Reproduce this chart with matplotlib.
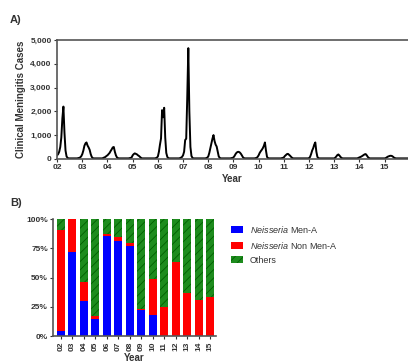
import matplotlib
matplotlib.use("Agg")
import matplotlib.pyplot as plt
import numpy as np

plt.rcParams["font.family"] = ["Liberation Sans", "DejaVu Sans"]
plt.rcParams["mathtext.fontset"] = "custom"
plt.rcParams["mathtext.it"] = "Liberation Sans:italic"
plt.rcParams["mathtext.rm"] = "Liberation Sans"
plt.rcParams["hatch.linewidth"] = 0.6

# Panel A: clinical meningitis cases, 24 readings per year (half-monthly), 2002-2015
years = ["02", "03", "04", "05", "06", "07", "08", "09", "10", "11", "12", "13", "14", "15"]
cases = [
    [150, 200, 300, 500, 900, 1700, 2200, 1100, 350, 100, 40, 20, 20, 20, 20, 20, 20, 20, 20, 20, 30, 40, 60, 110],
    [200, 350, 550, 650, 690, 560, 480, 380, 200, 80, 30, 20, 20, 20, 20, 20, 20, 20, 20, 20, 40, 60, 80, 120],
    [150, 200, 250, 330, 400, 480, 500, 300, 150, 60, 30, 20, 20, 20, 20, 20, 20, 20, 20, 20, 20, 30, 40, 60],
    [150, 200, 230, 210, 190, 150, 120, 80, 40, 20, 20, 20, 20, 20, 20, 20, 20, 20, 20, 20, 20, 20, 30, 50],
    [100, 300, 600, 860, 2050, 1750, 2150, 900, 250, 80, 30, 20, 20, 20, 20, 20, 20, 20, 20, 20, 20, 30, 50, 80],
    [150, 300, 790, 850, 2600, 4660, 2000, 500, 120, 40, 20, 20, 20, 20, 20, 20, 20, 20, 20, 20, 20, 20, 30, 50],
    [100, 250, 450, 650, 850, 1000, 750, 600, 520, 300, 100, 40, 20, 20, 20, 20, 20, 20, 20, 20, 20, 20, 30, 40],
    [60, 120, 200, 260, 290, 295, 270, 220, 150, 70, 30, 20, 20, 20, 20, 20, 20, 20, 20, 20, 20, 30, 40, 80],
    [150, 250, 320, 380, 450, 550, 690, 350, 80, 30, 20, 20, 20, 20, 20, 20, 20, 20, 20, 20, 20, 20, 30, 40],
    [60, 120, 160, 200, 210, 170, 130, 80, 40, 20, 20, 20, 20, 20, 20, 20, 20, 20, 20, 20, 20, 20, 20, 20],
    [30, 80, 200, 350, 450, 600, 690, 300, 80, 30, 20, 20, 20, 20, 20, 20, 20, 20, 20, 20, 20, 20, 20, 20],
    [20, 50, 100, 160, 185, 140, 80, 40, 20, 20, 20, 20, 20, 20, 20, 20, 20, 20, 20, 20, 20, 20, 20, 40],
    [60, 80, 100, 130, 160, 190, 200, 150, 80, 40, 20, 20, 20, 20, 20, 20, 20, 20, 20, 20, 20, 20, 20, 20],
    [20, 30, 60, 90, 110, 125, 130, 120, 90, 50, 30, 20, 20, 20, 20, 20, 20, 20, 20, 20, 20, 20, 20, 20],
]

# Panel B: share of serogroups per year (%)
men_a = [4, 72, 30, 15, 86, 81, 77, 22, 18, 0, 0, 0, 0, 0]
non_men_a = [87, 28, 16, 2, 1, 4, 3, 1.5, 31, 25, 63, 37, 31, 33]
others = [9, 0, 54, 83, 13, 15, 20, 76.5, 51, 75, 37, 63, 69, 67]

fig = plt.figure(figsize=(4.08, 3.61), dpi=100)

# ---- A) ----
ax1 = fig.add_axes([0.140, 0.560, 0.86, 0.329])
y = np.concatenate(cases)
t = np.arange(len(y)) / 24.0
ax1.plot(t, y, color="black", lw=1.4)
ax1.set_xlim(0, 13.93)
ax1.set_ylim(0, 5000)
ax1.set_xticks(range(len(years)))
ax1.set_xticklabels(years)
ax1.set_yticks([0, 1000, 2000, 3000, 4000, 5000])
ax1.set_yticklabels(["0", "1,000", "2,000", "3,000", "4,000", "5,000"])
for s in ["left", "bottom", "top"]:
    ax1.spines[s].set_color("#555555")
    ax1.spines[s].set_linewidth(1.2)
ax1.spines["right"].set_visible(False)
ax1.tick_params(labelsize=6, length=2.5, width=0.8, pad=1.5, colors="#333333")
for lab in ax1.get_xticklabels() + ax1.get_yticklabels():
    lab.set_fontweight("bold")
ax1.set_xlabel("Year", fontsize=7, fontweight="bold", labelpad=2, color="#333333")
ax1.set_ylabel("Clinical Meningitis Cases", fontsize=7, fontweight="bold", labelpad=3, color="#333333")
fig.text(0.025, 0.945, "A)", fontsize=8, fontweight="bold", color="#333333", va="center")

# ---- B) ----
ax2 = fig.add_axes([0.131, 0.069, 0.398, 0.324])
x = np.arange(len(years))
w = 0.7
ax2.bar(x, men_a, width=w, color="#0000ff", label=r"$\it{Neisseria}$ Men-A")
ax2.bar(x, non_men_a, width=w, bottom=men_a, color="#ff0000", label=r"$\it{Neisseria}$ Non Men-A")
bottom2 = np.array(men_a) + np.array(non_men_a)
ax2.bar(x, others, width=w, bottom=bottom2, color="#1e8c1e", edgecolor="#006000",
        hatch="////", linewidth=0, label="Others")
ax2.set_xlim(-0.64, 13.5)
ax2.set_ylim(0, 100)
ax2.set_yticks([0, 25, 50, 75, 100])
ax2.set_yticklabels(["0%", "25%", "50%", "75%", "100%"])
ax2.set_xticks(x)
ax2.set_xticklabels(years, rotation=90)
ax2.spines["top"].set_visible(False)
ax2.spines["right"].set_visible(False)
for s in ["left", "bottom"]:
    ax2.spines[s].set_color("#555555")
    ax2.spines[s].set_linewidth(1.2)
ax2.tick_params(labelsize=6, length=2.5, width=0.8, pad=1.5, colors="#333333")
for lab in ax2.get_xticklabels() + ax2.get_yticklabels():
    lab.set_fontweight("bold")
ax2.set_xlabel("Year", fontsize=7, fontweight="bold", labelpad=1, color="#333333")
fig.text(0.025, 0.437, "B)", fontsize=8, fontweight="bold", color="#333333", va="center")

ax2.legend(loc="upper left", bbox_to_anchor=(1.07, 0.99), frameon=False, fontsize=6.5,
           handlelength=1.3, handleheight=0.8, handletextpad=0.8, labelspacing=0.55,
           borderaxespad=0, labelcolor="#333333")

fig.savefig("out.png", dpi=100)
